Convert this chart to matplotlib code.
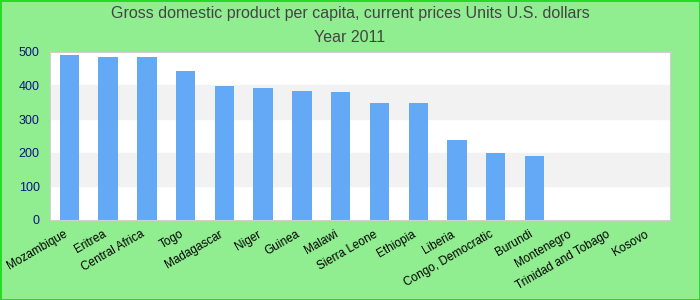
import matplotlib.pyplot as plt
import numpy as np

plt.rcParams['font.family'] = ['Liberation Sans', 'DejaVu Sans']

countries = ['Mozambique', 'Eritrea', 'Central Africa', 'Togo', 'Madagascar', 'Niger',
             'Guinea', 'Malawi', 'Sierra Leone', 'Ethiopia', 'Liberia', 'Congo, Democratic',
             'Burundi', 'Montenegro', 'Trinidad and Tobago', 'Kosovo']
# no value shown for the last three
gdp = [491, 485, 485, 443, 399, 393, 384, 381, 348, 348, 238, 199, 190,
       np.nan, np.nan, np.nan]


def main():
    x = np.arange(len(countries))
    fig = plt.figure(figsize=(7, 3), dpi=100, facecolor='#90ee90',
                     edgecolor='#22dd22', linewidth=2)
    ax = fig.add_axes([0.0714, 0.267, 0.886, 0.56])
    ax.set_facecolor('white')

    # bandes grises alternées
    for lo in range(100, 500, 200):
        ax.axhspan(lo, lo + 100, color='#f2f2f2', zorder=0)

    ax.bar(x, gdp, width=0.5, color='#63a9f5', zorder=2)

    ax.set_xlim(-0.5, len(countries) - 0.5)
    ax.set_ylim(0, 500)
    ax.set_yticks(range(0, 501, 100))
    ax.tick_params(axis='y', colors='#10108a', labelsize=9, length=0, pad=7.5)
    ax.tick_params(axis='x', length=0, labelsize=8.5, pad=6)
    ax.set_xticks(x)
    ax.set_xticklabels(countries, rotation=30, ha='right')
    for s in ax.spines.values():
        s.set_color('#d0d0d0')

    fig.text(0.5, 0.955, 'Gross domestic product per capita, current prices Units U.S. dollars',
             ha='center', va='center', fontsize=11.5, color='#444444')
    fig.text(0.5, 0.875, 'Year 2011', ha='center', va='center',
             fontsize=11.5, color='#444444')

    fig.savefig('out.png', dpi=100, facecolor=fig.get_facecolor(),
                edgecolor=fig.get_edgecolor())


if __name__ == '__main__':
    main()
